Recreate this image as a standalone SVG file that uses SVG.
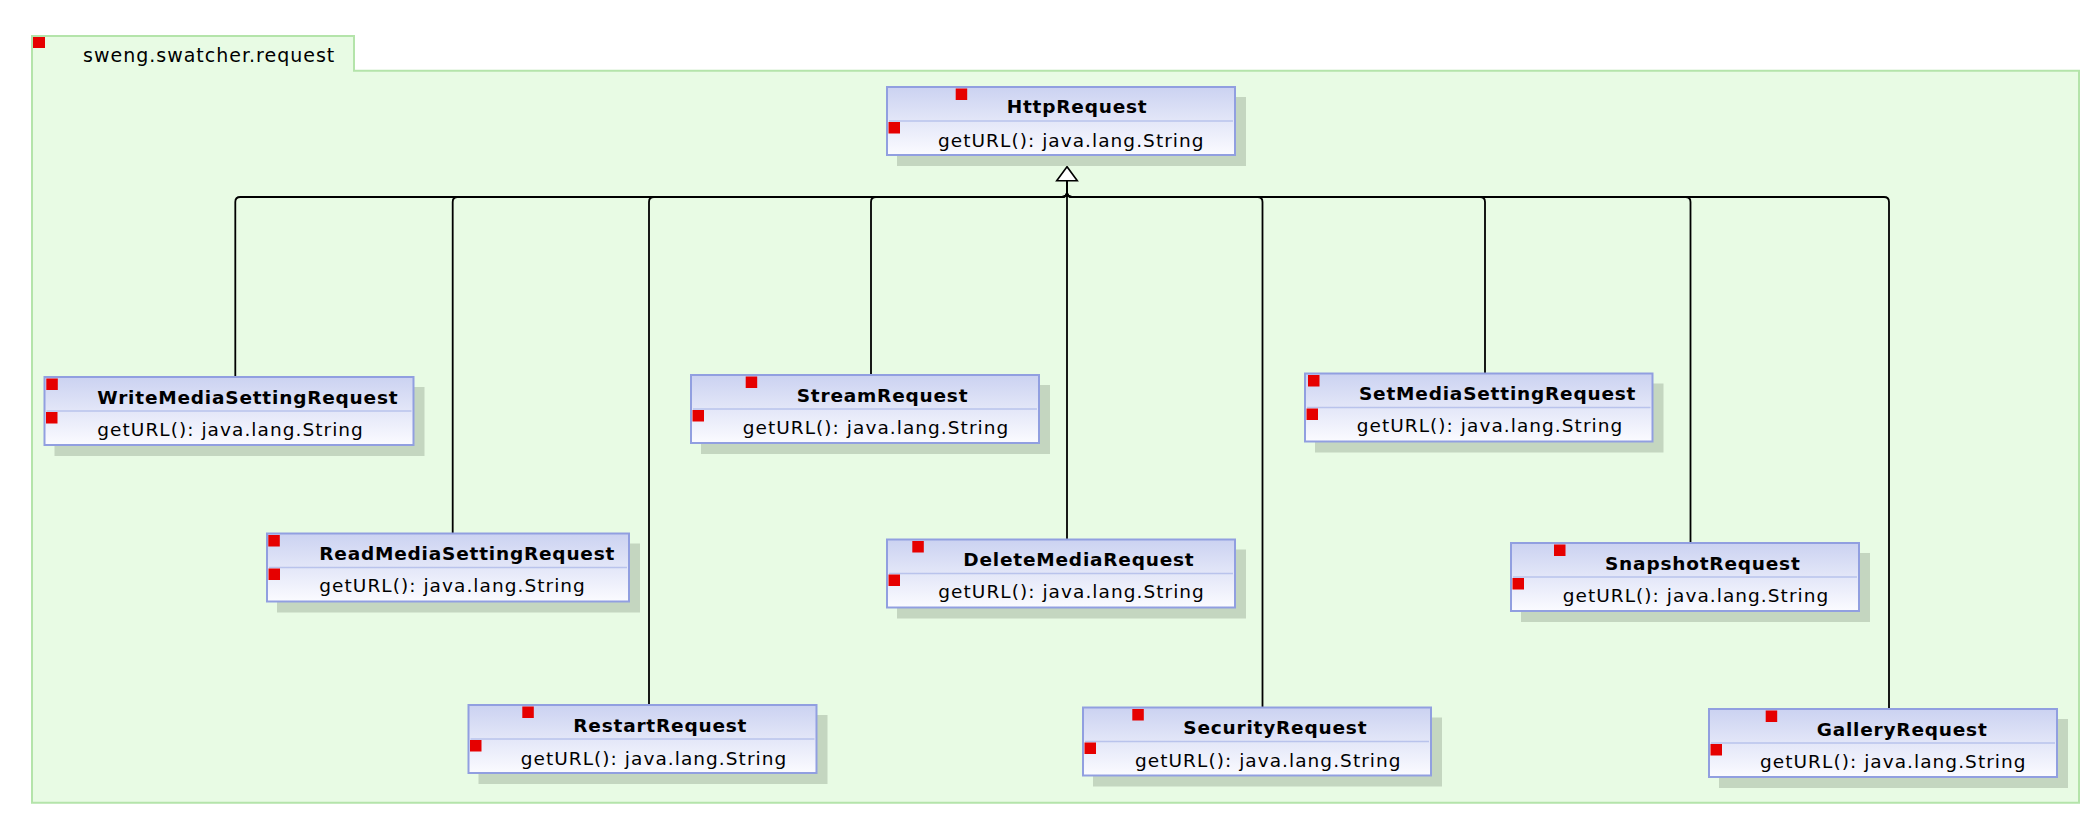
<svg xmlns="http://www.w3.org/2000/svg" width="2100" height="828" viewBox="0 0 2100 828">
<defs>
<linearGradient id="boxg" x1="0" y1="0" x2="0" y2="1">
<stop offset="0" stop-color="#cbd2f1"/>
<stop offset="1" stop-color="#fbfbff"/>
</linearGradient>
</defs>
<style>
.pkg{fill:#e8fbe4;stroke:#b4e4aa;stroke-width:2}
.shd{fill:#c4d6c0}
.box{fill:url(#boxg);stroke:#919fe0;stroke-width:2}
.div{stroke:#b9c3ec;stroke-width:1.5}
.ic{fill:#e60000}
.t{font-family:"DejaVu Sans",sans-serif;font-size:18.5px;font-weight:bold;letter-spacing:0.8px;fill:#000}
.m{font-family:"DejaVu Sans",sans-serif;font-size:18.5px;letter-spacing:1.05px;fill:#000}
.pl{font-family:"DejaVu Sans",sans-serif;font-size:19px;letter-spacing:1px;fill:#000}
.c{fill:none;stroke:#000;stroke-width:1.8}
.arr{fill:#fff;stroke:#000;stroke-width:1.6;stroke-linejoin:miter}
</style>
<rect width="2100" height="828" fill="#fff"/>
<g id="package">
<path class="pkg" d="M32,36 H354 V70.7 H2079 V802.7 H32 Z"/>
<rect class="ic" x="33" y="37" width="12" height="11"/>
<text class="pl" x="83" y="62">sweng.swatcher.request</text>
</g>
<g id="connectors">
<path class="c" d="M235.3,377 V202 Q235.3,197 240.3,197 H1062 Q1067,197 1067,192 V181"/>
<path class="c" d="M452.7,533.5 V202 Q452.7,197 457.7,197 H1062 Q1067,197 1067,192 V181"/>
<path class="c" d="M649,705 V202 Q649,197 654,197 H1062 Q1067,197 1067,192 V181"/>
<path class="c" d="M871,375 V202 Q871,197 876,197 H1062 Q1067,197 1067,192 V181"/>
<path class="c" d="M1067,539.5 V181"/>
<path class="c" d="M1262.5,707.5 V202 Q1262.5,197 1257.5,197 H1072 Q1067,197 1067,192 V181"/>
<path class="c" d="M1485,373.5 V202 Q1485,197 1480,197 H1072 Q1067,197 1067,192 V181"/>
<path class="c" d="M1690.5,543 V202 Q1690.5,197 1685.5,197 H1072 Q1067,197 1067,192 V181"/>
<path class="c" d="M1889,709 V202 Q1889,197 1884,197 H1072 Q1067,197 1067,192 V181"/>
<polygon class="arr" points="1067,166.7 1056.7,180.7 1077.3,180.7"/>
</g>
<g id="HttpRequest">
<rect class="shd" x="897" y="97" width="349" height="69"/>
<rect class="box" x="887" y="87" width="348" height="68"/>
<line class="div" x1="889" y1="121" x2="1233" y2="121"/>
<rect class="ic" x="955.7" y="88.5" width="11.5" height="11.5"/>
<rect class="ic" x="888.5" y="122" width="11.5" height="11.5"/>
<text class="t" x="1006.7" y="113.3">HttpRequest</text>
<text class="m" x="938" y="147">getURL(): java.lang.String</text>
</g>
<g id="WriteMediaSettingRequest">
<rect class="shd" x="54.5" y="387" width="370" height="69"/>
<rect class="box" x="44.5" y="377" width="369" height="68"/>
<line class="div" x1="46.5" y1="411" x2="411.5" y2="411"/>
<rect class="ic" x="46.3" y="378.5" width="11.5" height="11.5"/>
<rect class="ic" x="46" y="412" width="11.5" height="11.5"/>
<text class="t" x="97.3" y="403.5">WriteMediaSettingRequest</text>
<text class="m" x="97.3" y="436">getURL(): java.lang.String</text>
</g>
<g id="ReadMediaSettingRequest">
<rect class="shd" x="277" y="543.5" width="363" height="69"/>
<rect class="box" x="267" y="533.5" width="362" height="68"/>
<line class="div" x1="269" y1="567.5" x2="627" y2="567.5"/>
<rect class="ic" x="268.3" y="535" width="11.5" height="11.5"/>
<rect class="ic" x="268.5" y="568.5" width="11.5" height="11.5"/>
<text class="t" x="319.3" y="560">ReadMediaSettingRequest</text>
<text class="m" x="319.3" y="592">getURL(): java.lang.String</text>
</g>
<g id="RestartRequest">
<rect class="shd" x="478.5" y="715" width="349" height="69"/>
<rect class="box" x="468.5" y="705" width="348" height="68"/>
<line class="div" x1="470.5" y1="739" x2="814.5" y2="739"/>
<rect class="ic" x="522.3" y="706.5" width="11.5" height="11.5"/>
<rect class="ic" x="470" y="740" width="11.5" height="11.5"/>
<text class="t" x="573.3" y="731.5">RestartRequest</text>
<text class="m" x="520.7" y="764.5">getURL(): java.lang.String</text>
</g>
<g id="StreamRequest">
<rect class="shd" x="701" y="385" width="349" height="69"/>
<rect class="box" x="691" y="375" width="348" height="68"/>
<line class="div" x1="693" y1="409" x2="1037" y2="409"/>
<rect class="ic" x="745.7" y="376.5" width="11.5" height="11.5"/>
<rect class="ic" x="692.5" y="410" width="11.5" height="11.5"/>
<text class="t" x="796.7" y="401.5">StreamRequest</text>
<text class="m" x="742.7" y="434">getURL(): java.lang.String</text>
</g>
<g id="DeleteMediaRequest">
<rect class="shd" x="897" y="549.5" width="349" height="69"/>
<rect class="box" x="887" y="539.5" width="348" height="68"/>
<line class="div" x1="889" y1="573.5" x2="1233" y2="573.5"/>
<rect class="ic" x="912.3" y="541" width="11.5" height="11.5"/>
<rect class="ic" x="888.5" y="574.5" width="11.5" height="11.5"/>
<text class="t" x="963.3" y="566">DeleteMediaRequest</text>
<text class="m" x="938.3" y="598">getURL(): java.lang.String</text>
</g>
<g id="SecurityRequest">
<rect class="shd" x="1093" y="717.5" width="349" height="69"/>
<rect class="box" x="1083" y="707.5" width="348" height="68"/>
<line class="div" x1="1085" y1="741.5" x2="1429" y2="741.5"/>
<rect class="ic" x="1132.3" y="709" width="11.5" height="11.5"/>
<rect class="ic" x="1084.5" y="742.5" width="11.5" height="11.5"/>
<text class="t" x="1183.3" y="734">SecurityRequest</text>
<text class="m" x="1135" y="767">getURL(): java.lang.String</text>
</g>
<g id="SetMediaSettingRequest">
<rect class="shd" x="1315" y="383.5" width="348.5" height="69"/>
<rect class="box" x="1305" y="373.5" width="347.5" height="68"/>
<line class="div" x1="1307" y1="407.5" x2="1650.5" y2="407.5"/>
<rect class="ic" x="1308" y="375" width="11.5" height="11.5"/>
<rect class="ic" x="1306.5" y="408.5" width="11.5" height="11.5"/>
<text class="t" x="1359" y="400">SetMediaSettingRequest</text>
<text class="m" x="1356.7" y="432">getURL(): java.lang.String</text>
</g>
<g id="SnapshotRequest">
<rect class="shd" x="1521" y="553" width="349" height="69"/>
<rect class="box" x="1511" y="543" width="348" height="68"/>
<line class="div" x1="1513" y1="577" x2="1857" y2="577"/>
<rect class="ic" x="1554" y="544.5" width="11.5" height="11.5"/>
<rect class="ic" x="1512.5" y="578" width="11.5" height="11.5"/>
<text class="t" x="1605" y="569.5">SnapshotRequest</text>
<text class="m" x="1562.7" y="602">getURL(): java.lang.String</text>
</g>
<g id="GalleryRequest">
<rect class="shd" x="1719" y="719" width="349" height="69"/>
<rect class="box" x="1709" y="709" width="348" height="68"/>
<line class="div" x1="1711" y1="743" x2="2055" y2="743"/>
<rect class="ic" x="1765.7" y="710.5" width="11.5" height="11.5"/>
<rect class="ic" x="1710.5" y="744" width="11.5" height="11.5"/>
<text class="t" x="1816.7" y="735.5">GalleryRequest</text>
<text class="m" x="1760" y="768">getURL(): java.lang.String</text>
</g>
</svg>
